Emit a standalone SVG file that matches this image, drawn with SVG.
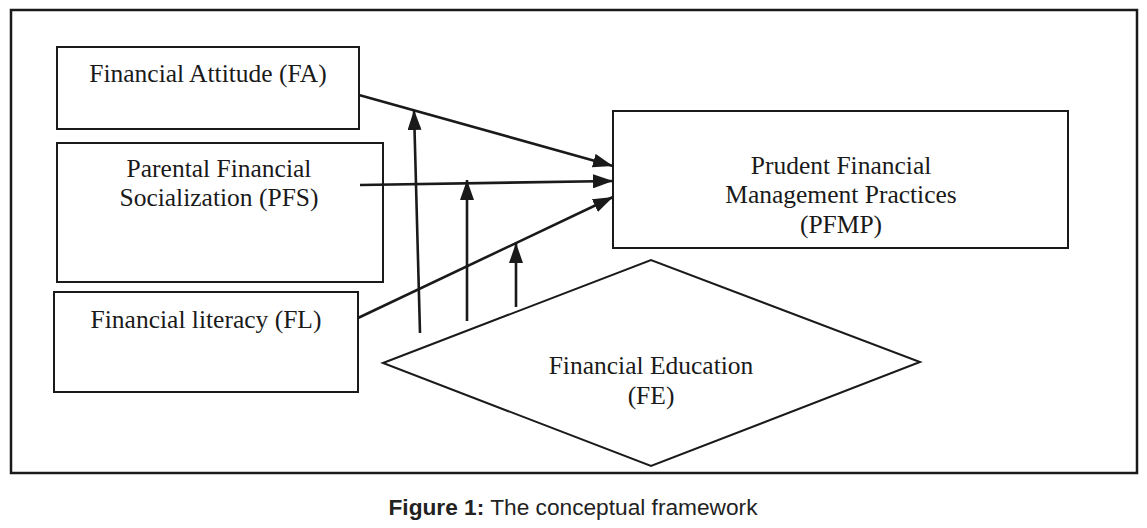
<svg xmlns="http://www.w3.org/2000/svg" width="1147" height="528" viewBox="0 0 1147 528">
<style>
.box{fill:#fff;stroke:#1a1a1a;stroke-width:2}
.t{font-family:"Liberation Serif","Times New Roman",serif;font-size:25.5px;fill:#1a1a1a;text-anchor:middle}
.c{stroke:#1a1a1a;stroke-width:2.6;fill:none}
.cap{font-family:"Liberation Sans",Arial,sans-serif;font-size:22.7px;fill:#222;text-anchor:middle}
</style>
<defs>
<marker id="ah" viewBox="0 0 20 14" refX="20" refY="7" markerWidth="20" markerHeight="14" markerUnits="userSpaceOnUse" orient="auto">
<path d="M0,0 L20,7 L0,14 Z" fill="#1a1a1a"/>
</marker>
</defs>
<rect width="1147" height="528" fill="#fff"/>
<rect x="11" y="10" width="1126" height="463" fill="none" stroke="#1a1a1a" stroke-width="2.5"/>
<g id="FE">
<polygon class="box" points="383,363 651,260 920,362 651,466" stroke-width="1.6"/>
<text class="t" x="651" y="374">Financial Education</text>
<text class="t" x="651" y="404">(FE)</text>
</g>
<g id="FA">
<rect class="box" x="57" y="47" width="302" height="82"/>
<text class="t" x="208" y="82">Financial Attitude (FA)</text>
</g>
<g id="PFS">
<rect class="box" x="57" y="143" width="326" height="139"/>
<text class="t" x="219" y="177">Parental Financial</text>
<text class="t" x="219" y="206">Socialization (PFS)</text>
</g>
<g id="FL">
<rect class="box" x="54" y="292" width="304" height="100"/>
<text class="t" x="206" y="328">Financial literacy (FL)</text>
</g>
<g id="PFMP">
<rect class="box" x="613" y="111" width="455" height="137"/>
<text class="t" x="841" y="174">Prudent Financial</text>
<text class="t" x="841" y="203">Management Practices</text>
<text class="t" x="841" y="233">(PFMP)</text>
</g>
<g id="connectors">
<line class="c" x1="359" y1="95" x2="613" y2="166" marker-end="url(#ah)"/>
<line class="c" x1="360" y1="185" x2="613" y2="181" marker-end="url(#ah)"/>
<line class="c" x1="358" y1="318" x2="613" y2="197" marker-end="url(#ah)"/>
<line class="c" x1="420" y1="333" x2="414" y2="110" marker-end="url(#ah)"/>
<line class="c" x1="467" y1="321" x2="467" y2="180" marker-end="url(#ah)"/>
<line class="c" x1="516" y1="307" x2="516" y2="243" marker-end="url(#ah)"/>
</g>
<text class="cap" x="573" y="515"><tspan font-weight="bold">Figure 1:</tspan> The conceptual framework</text>
</svg>
